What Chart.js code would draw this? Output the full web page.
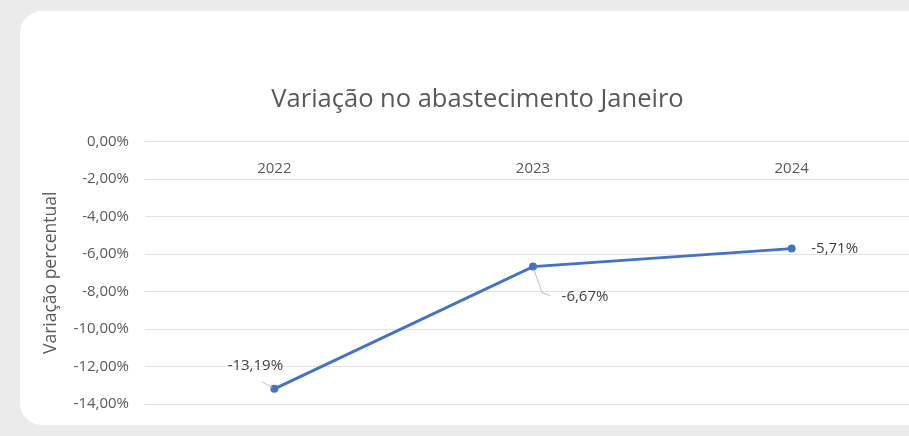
<!DOCTYPE html>
<html>
<head>
<meta charset="utf-8">
<script src="https://cdn.jsdelivr.net/npm/chart.js@4"></script>
<style>
  html, body { margin: 0; padding: 0; width: 909px; height: 436px; overflow: hidden; background: #ebebeb; }
  #card { position: absolute; left: 20px; top: 11px; width: 940px; height: 414px; background: #fff; border-radius: 22px; overflow: hidden; }
  #wrap { position: absolute; left: 0; top: 0; width: 914px; height: 418px; }
</style>
</head>
<body>
<div id="card"><div id="wrap"><canvas id="lineChart"></canvas></div></div>
<script>
// dados do grafico
var years = ['2022', '2023', '2024']
var variacao = [-13.19, -6.67, -5.71]
var yTicks = [0, -2, -4, -6, -8, -10, -12, -14]

function pct(v) {
    return v.toFixed(2).replace('.', ',') + '%'
}

var textGray = '#595959'
var fontFamily = "'Open Sans', sans-serif"

// rotulos de dados com linha de chamada, como no Excel
var dataLabels = {
    id: 'dataLabels',
    afterDatasetsDraw(chart, args, opts) {
        var ctx = chart.ctx
        var meta = chart.getDatasetMeta(0)
        ctx.save()
        ctx.font = opts.font
        ctx.fillStyle = opts.color
        ctx.textAlign = 'center'
        ctx.textBaseline = 'middle'
        meta.data.forEach((pt, i) => {
            var off = opts.offsets[i]
            var lx = pt.x + off.dx
            var ly = pt.y + off.dy
            if (off.leader) {
                ctx.strokeStyle = '#bfbfbf'
                ctx.lineWidth = 1
                ctx.beginPath()
                ctx.moveTo(pt.x + off.leader[0][0], pt.y + off.leader[0][1])
                for (var k = 1; k < off.leader.length; k++) {
                    ctx.lineTo(pt.x + off.leader[k][0], pt.y + off.leader[k][1])
                }
                ctx.stroke()
            }
            ctx.fillText(pct(chart.data.datasets[0].data[i]), lx, ly)
        })
        ctx.restore()
    }
}

var ctx = document.getElementById('lineChart')
var chart = new Chart(ctx, {
    type: 'line',
    data: {
        labels: years,
        datasets: [{
            label: 'Variação',
            data: variacao,
            borderColor: '#4472c4',
            backgroundColor: '#4472c4',
            borderWidth: 3,
            pointRadius: 4,
            pointBorderWidth: 0,
            fill: false,
            tension: 0
        }]
    },
    options: {
        responsive: true,
        maintainAspectRatio: false,
        animation: false,
        events: [],
        layout: { padding: { top: 73, right: 13, bottom: 12, left: 14 } },
        plugins: {
            legend: { display: false },
            tooltip: { enabled: false },
            title: {
                display: true,
                text: 'Variação no abastecimento Janeiro',
                color: textGray,
                font: { family: fontFamily, size: 25.5, weight: 'normal' },
                padding: { top: 0, bottom: 27 }
            },
            dataLabels: {
                font: "15px 'Open Sans', sans-serif",
                color: '#404040',
                offsets: [
                    { dx: -19, dy: -23, leader: [[-2, -1], [-12, -7]] },
                    { dx: 52, dy: 30, leader: [[1, 3], [9, 26], [17, 29]] },
                    { dx: 43, dy: 0 }
                ]
            }
        },
        scales: {
            x: {
                position: { y: 0 },
                offset: true,
                grid: { display: false, drawTicks: false },
                border: { display: false },
                ticks: { color: textGray, font: { family: fontFamily, size: 15 }, padding: 18 }
            },
            y: {
                min: -14,
                max: 0,
                afterFit(scale) { scale.width = 111 },
                afterBuildTicks(scale) { scale.ticks = yTicks.map(v => ({ value: v })) },
                grid: { color: '#e3e3e3', lineWidth: 1, drawTicks: false },
                border: { display: false },
                ticks: {
                    color: textGray,
                    font: { family: fontFamily, size: 15 },
                    padding: 16,
                    callback: v => pct(v)
                },
                title: {
                    display: true,
                    text: 'Variação percentual',
                    color: textGray,
                    font: { family: fontFamily, size: 17.5 },
                    padding: { top: 7, bottom: 0 }
                }
            }
        }
    },
    plugins: [dataLabels]
})
</script>
</body>
</html>
